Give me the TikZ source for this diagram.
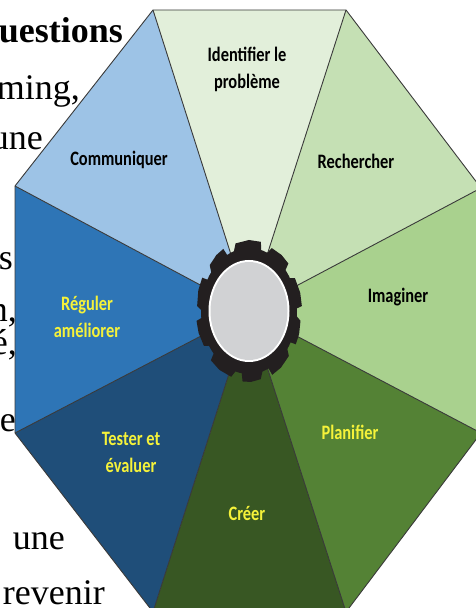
\documentclass[tikz,border=0pt]{standalone}
\usepackage{fontspec}
\setmainfont{Liberation Serif}
\newfontfamily\lab[FakeStretch=0.8]{Carlito}
\definecolor{cIdent}{HTML}{E2EFDA}
\definecolor{cRech}{HTML}{C5E0B4}
\definecolor{cImag}{HTML}{A9D18E}
\definecolor{cPlan}{HTML}{548235}
\definecolor{cCree}{HTML}{385723}
\definecolor{cTest}{HTML}{1F4E79}
\definecolor{cRegu}{HTML}{2E75B6}
\definecolor{cComm}{HTML}{9DC3E6}
\definecolor{cGear}{HTML}{231F20}
\definecolor{cHub}{HTML}{D1D2D4}
\definecolor{cYel}{HTML}{F5F23A}
\definecolor{cLine}{HTML}{3A3A3A}
\tikzset{
  bg/.style={font=\fontsize{36}{40}\selectfont, inner sep=0pt, anchor=base east, text=black},
  lbl/.style={font=\lab\bfseries\fontsize{20.5}{27}\selectfont, align=center, inner sep=0pt},
  dark/.style={lbl, text=black},
  light/.style={lbl, text=cYel},
  sep/.style={draw=cLine, line width=0.9pt, line join=round}
}
\begin{document}
\begin{tikzpicture}[x=1pt,y=1pt]
\useasboundingbox (0,0) rectangle (476,608);
\clip (0,0) rectangle (476,608);
% background page text fragments
\node[bg] (t1) at (123,565) {\textbf{uestions}};
\node[bg] (t2) at (80,508) {ming,};
\node[bg] (t3) at (43,458) {une};
\node[bg] (t4) at (13,338) {s};
\node[bg] (t5) at (17,286) {n,};
\node[bg] (t6) at (17,253) {é,};
\node[bg] (t7) at (16,176) {e};
\node[bg] (t8) at (65,58) {une};
\node[bg] (t9) at (105,3) {revenir};
% octagon
\coordinate (O) at (249,297);
\coordinate (V1) at (153,598);
\coordinate (V2) at (346,598);
\coordinate (V3) at (481,420);
\coordinate (V4) at (481,175);
\coordinate (V5) at (346,-4);
\coordinate (V6) at (153,-4);
\coordinate (V7) at (15,175);
\coordinate (V8) at (15,422);
\fill[cIdent] (O) -- (V1) -- (V2) -- cycle;
\fill[cRech] (O) -- (V2) -- (V3) -- cycle;
\fill[cImag] (O) -- (V3) -- (V4) -- cycle;
\fill[cPlan] (O) -- (V4) -- (V5) -- cycle;
\fill[cCree] (O) -- (V5) -- (V6) -- cycle;
\fill[cTest] (O) -- (V6) -- (V7) -- cycle;
\fill[cRegu] (O) -- (V7) -- (V8) -- cycle;
\fill[cComm] (O) -- (V8) -- (V1) -- cycle;
\foreach \v in {V1,V2,V3,V4,V5,V6,V7,V8} \draw[sep] (O) -- (\v);
\draw[sep] (V1) -- (V2) -- (V3) -- (V4) -- (V5) -- (V6) -- (V7) -- (V8) -- cycle;
% gear hub (irregular ratchet ring)
\fill[cGear] ({249+47*cos(2)},{297+62*sin(2)})
  \foreach \a/\w in {2/26, 40/24, 75/30, 117/22, 150/26, 186/24, 222/28, 261/22, 294/26, 330/22} {
    -- ({249+47*cos(\a)},{297+62*sin(\a)})
    -- ({249+53*cos(\a+2)},{297+71*sin(\a+2)})
    -- ({249+53*cos(\a+\w/2)},{297+71*sin(\a+\w/2)})
    -- ({249+52*cos(\a+\w)},{297+70*sin(\a+\w)})
    -- ({249+47*cos(\a+\w+4)},{297+62*sin(\a+\w+4)})
  } -- cycle;
\fill[cGear] (O) ellipse [x radius=48, y radius=63];
\fill[white] (O) ellipse [x radius=40.5, y radius=51];
\fill[cHub] (O) ellipse [x radius=38.5, y radius=49];
% labels
\node[dark] (n1) at (247,539) {Identifier le\\problème};
\node[dark] (n2) at (356,447) {Rechercher};
\node[dark] (n3) at (398,311) {Imaginer};
\node[light] (n4) at (350,176) {Planifier};
\node[light] (n5) at (247,95) {Créer};
\node[light] (n6) at (131,156) {Tester et\\évaluer};
\node[light] (n7) at (87,291) {Réguler\\améliorer};
\node[dark] (n8) at (119,448) {Communiquer};
\end{tikzpicture}
\end{document}
